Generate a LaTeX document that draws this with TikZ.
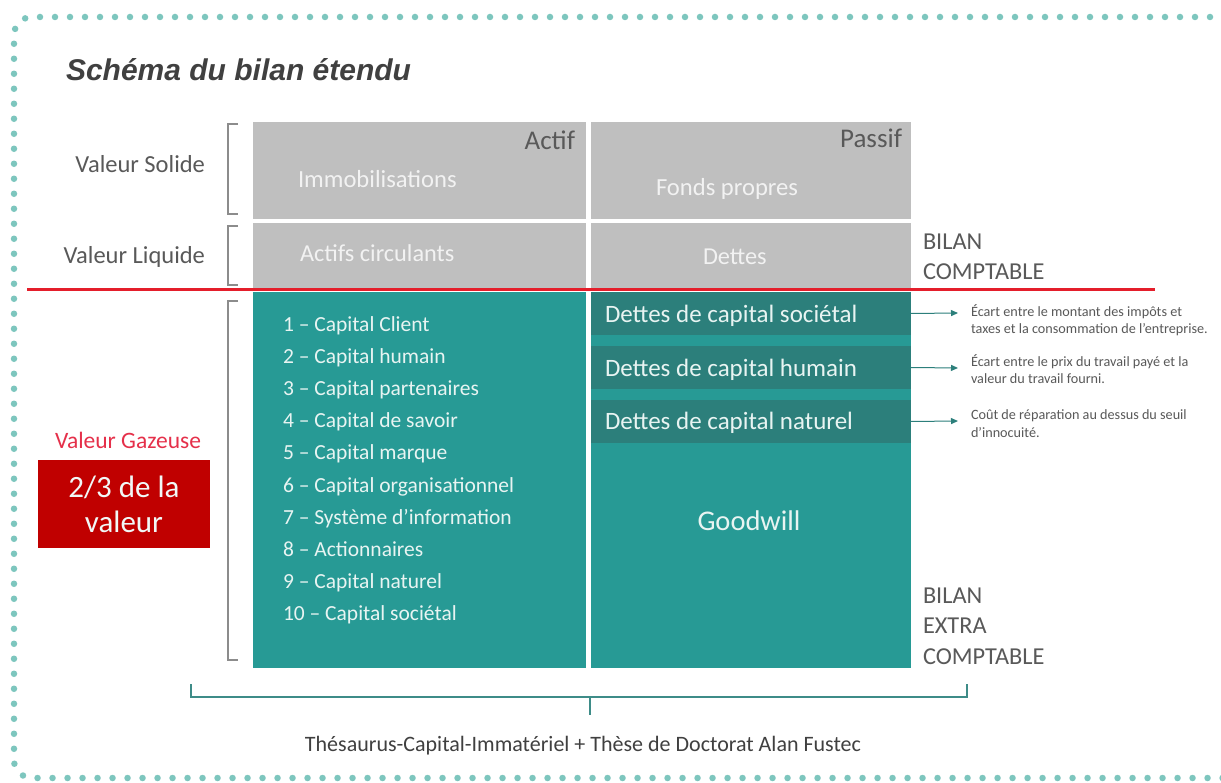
\documentclass[tikz,border=0pt]{standalone}
\usepackage{fontspec}
\setmainfont{Carlito}
\newfontfamily\titlefont{Liberation Sans}
\usetikzlibrary{arrows.meta}
\definecolor{grayblk}{HTML}{BFBFBF}
\definecolor{graytxt}{HTML}{F2F2F2}
\definecolor{darktxt}{HTML}{595959}
\definecolor{tealblk}{HTML}{279A95}
\definecolor{tealdark}{HTML}{2C7F7B}
\definecolor{tealtxt}{HTML}{E8F4F2}
\definecolor{redline}{HTML}{E41E2B}
\definecolor{redbox}{HTML}{C00000}
\definecolor{redtxt}{HTML}{E5304A}
\definecolor{dotcol}{HTML}{7DC6BE}
\definecolor{bracecol}{HTML}{3E8C88}
\definecolor{brackcol}{HTML}{8C8C8C}
\begin{document}
\begin{tikzpicture}[x=1pt,y=-1pt,
  every node/.style={inner sep=0pt, outer sep=0pt},
  box/.style={anchor=north west, draw=none},
  t/.style={font=\fontsize{#1}{#1}\selectfont},
  lst/.style={t=21.5, text=tealtxt, anchor=base west},
  dt/.style={t=25, text=tealtxt, anchor=base west},
  note/.style={t=14.2, text=darktxt, anchor=base west},
  side/.style={t=24.3, text=darktxt, anchor=base west},
  arr/.style={draw=tealdark, line width=1pt, -{Triangle[length=7pt,width=6pt]}},
  brack/.style={draw=brackcol, line width=1.2pt},
]
\useasboundingbox (0,0) rectangle (1221,783);
\fill[white] (0,0) rectangle (1221,783);
% dotted frame
\draw[dotcol, line width=6.5pt, line cap=round, dash pattern=on 0pt off 15pt, rounded corners=18pt]
  (1240,17) -- (14,17) -- (14,778) -- (1240,778);
% title
\node[anchor=base west, font=\titlefont\bfseries\itshape\fontsize{30}{30}\selectfont, text=black!75] (title) at (66,81) {Schéma du bilan étendu};

% gray blocks
\node[box, fill=grayblk, minimum width=333pt, minimum height=97pt] (immo) at (253,122) {};
\node[box, fill=grayblk, minimum width=320pt, minimum height=97pt] (fonds) at (591,122) {};
\node[box, fill=grayblk, minimum width=333pt, minimum height=65pt] (actc) at (253,223) {};
\node[box, fill=grayblk, minimum width=320pt, minimum height=65pt] (dettes) at (591,223) {};
% teal blocks
\node[box, fill=tealblk, minimum width=333pt, minimum height=376pt] (actifx) at (253,292) {};
\node[box, fill=tealblk, minimum width=320pt, minimum height=376pt] (passifx) at (591,292) {};
\node[box, fill=tealdark, minimum width=320pt, minimum height=43pt] (d1) at (591,292) {};
\node[box, fill=tealdark, minimum width=320pt, minimum height=43pt] (d2) at (591,346) {};
\node[box, fill=tealdark, minimum width=320pt, minimum height=43pt] (d3) at (591,400) {};

% red line
\coordinate (rl1) at (27,290);
\coordinate (rl2) at (1155,290);
\draw[redline, line width=3pt] (rl1) -- (rl2);

% gray texts
\node[t=27, text=darktxt, anchor=base east] (actifT) at (575,150) {Actif};
\node[t=27, text=darktxt, anchor=base east] (passifT) at (902,148) {Passif};
\node[t=24.6, text=graytxt, anchor=base west] (immoT) at (298,188) {Immobilisations};
\node[t=24.6, text=graytxt, anchor=base west] (fondsT) at (656,196) {Fonds propres};
\node[t=24.3, text=graytxt, anchor=base west] (actcT) at (300,262) {Actifs circulants};
\node[t=24.3, text=graytxt, anchor=base west] (dettesT) at (703,265) {Dettes};

% left labels
\node[t=24.5, text=darktxt, anchor=base east] (solide) at (205,173) {Valeur Solide};
\node[t=24.5, text=darktxt, anchor=base east] (liquide) at (205,264) {Valeur Liquide};
\draw[brack] (238,124) -- (228,124) -- (228,214) -- (238,214);
\draw[brack] (238,226) -- (228,226) -- (228,285) -- (238,285);
\draw[brack] (238,301) -- (228,301) -- (228,660) -- (238,660);

\node[t=23.5, text=redtxt, anchor=base] (gaz) at (128,448) {Valeur Gazeuse};
\node[box, fill=redbox, minimum width=172pt, minimum height=88pt] (redb) at (38,460) {};
\node[t=31, text=tealtxt!60!white, anchor=base] (v1) at (124,497) {2/3 de la};
\node[t=31, text=tealtxt!60!white, anchor=base] (v2) at (124,532) {valeur};

% list
\foreach \i/\txt in {1/1 – Capital Client,2/2 – Capital humain,3/3 – Capital partenaires,4/4 – Capital de savoir,5/5 – Capital marque,6/6 – Capital organisationnel,7/7 – Système d’information,8/8 – Actionnaires,9/9 – Capital naturel,10/10 – Capital sociétal}{
  \node[lst] (L\i) at (283,{332+32*(\i-1)}) {\txt};
}

% dettes extra
\node[dt] (d1T) at (605,323) {Dettes de capital sociétal};
\node[dt] (d2T) at (605,377) {Dettes de capital humain};
\node[dt] (d3T) at (605,429) {Dettes de capital naturel};
\node[t=28.5, text=tealtxt, anchor=base] (gw) at (749,530) {Goodwill};

% arrows and notes
\coordinate (a1) at (958,313);
\coordinate (a2) at (958,368);
\coordinate (a3) at (958,421);
\draw[arr] (d1.east) -- (a1);
\draw[arr] (d2.east) -- (a2);
\draw[arr] (d3.east) -- (a3);
\node[note] (n1a) at (971,317) {Écart entre le montant des impôts et};
\node[note] (n1b) at (971,334) {taxes et la consommation de l’entreprise.};
\node[note] (n2a) at (971,367) {Écart entre le prix du travail payé et la};
\node[note] (n2b) at (971,384) {valeur du travail fourni.};
\node[note] (n3a) at (971,420) {Coût de réparation au dessus du seuil};
\node[note] (n3b) at (971,437) {d’innocuité.};

% right labels
\node[side] (bc1) at (923,250) {BILAN};
\node[side] (bc2) at (923,280) {COMPTABLE};
\node[side] (be1) at (923,603) {BILAN};
\node[side] (be2) at (923,633) {EXTRA};
\node[side] (be3) at (923,664) {COMPTABLE};

% bottom brace
\draw[bracecol, line width=1.5pt] (191,684) -- (191,697) -- (967,697) -- (967,684);
\draw[bracecol, line width=1.5pt] (590,697) -- (590,715);
\node[t=22, text=black!75, anchor=base] (src) at (583,751) {Thésaurus-Capital-Immatériel + Thèse de Doctorat Alan Fustec};
\end{tikzpicture}
\end{document}
